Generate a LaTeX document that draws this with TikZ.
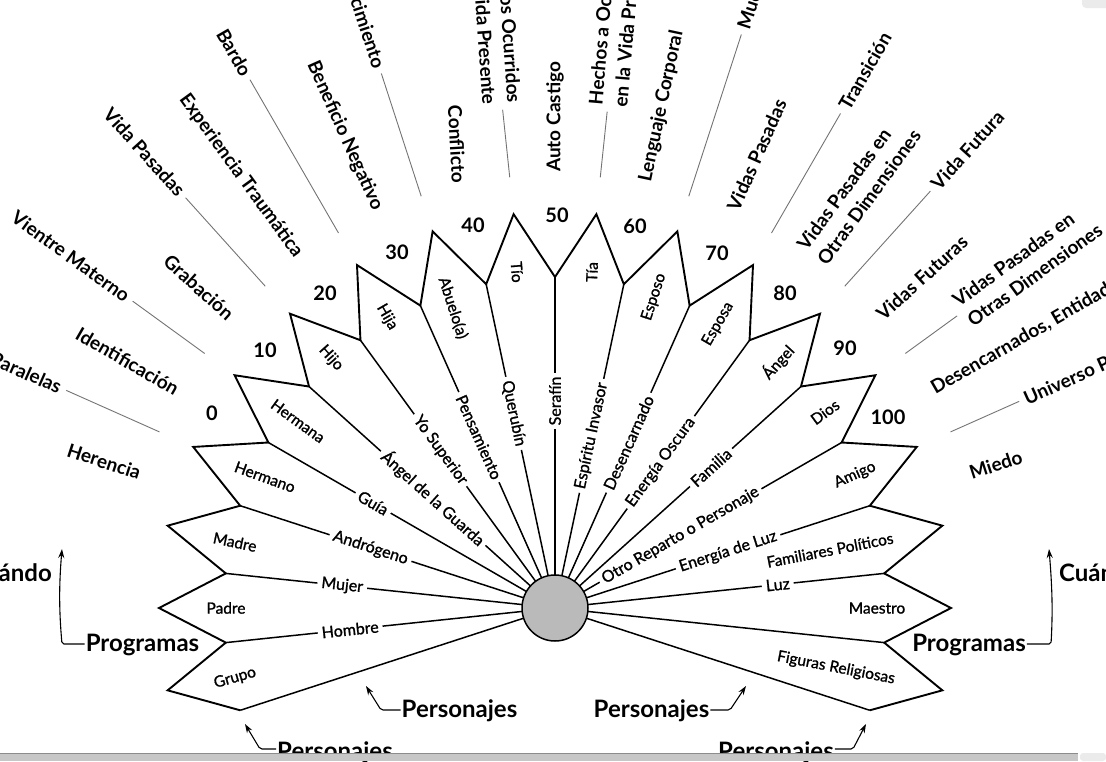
\documentclass[tikz,border=0pt]{standalone}
\usepackage{fontspec}
\setmainfont{Lato}
\newfontfamily\semib{Lato}[FakeBold=1.2]
\usetikzlibrary{calc,arrows.meta}
\begin{document}
\begin{tikzpicture}[x=1pt,y=-1pt,
  outline/.style={line width=1.9pt, line join=miter},
  radial/.style={line width=1.5pt},
  leader/.style={line width=0.9pt, draw=black!55},
  olbl/.style={font=\fontsize{19}{25}\selectfont\bfseries, inner sep=1pt},
  petal/.style={font=\semib\fontsize{15.5}{18}\selectfont, inner sep=1pt},
  linelbl/.style={font=\semib\fontsize{16}{18}\selectfont, fill=white, inner xsep=4pt, inner ysep=0.5pt},
  numlbl/.style={font=\fontsize{20}{24}\selectfont\bfseries, inner sep=1pt},
  biglbl/.style={font=\fontsize{24}{28}\selectfont\bfseries, inner sep=1pt},
  arr/.style={line width=1.1pt, -{Stealth[length=9pt,width=6pt]}, rounded corners=2pt}]
\useasboundingbox (0,0) rectangle (1106,761);
\coordinate (C) at (555,608);
% notches and tips
\foreach \k in {0,...,18} {\coordinate (n\k) at ($(C)+({-(198-12*\k)}:331)$);}
\foreach \k in {0,...,17} {\coordinate (t\k) at ($(C)+({-(192-12*\k)}:396)$);}
\draw[outline] (n0) -- (t0) -- (n1) -- (t1) -- (n2) -- (t2) -- (n3) -- (t3) -- (n4) -- (t4) -- (n5) -- (t5) -- (n6) -- (t6) -- (n7) -- (t7) -- (n8) -- (t8) -- (n9) -- (t9) -- (n10) -- (t10) -- (n11) -- (t11) -- (n12) -- (t12) -- (n13) -- (t13) -- (n14) -- (t14) -- (n15) -- (t15) -- (n16) -- (t16) -- (n17) -- (t17) -- (n18);
\node[circle, minimum size=66pt, inner sep=0pt] (hub) at (C) {};
\foreach \k in {0,...,18} {\draw[radial] (n\k) -- (hub);}
% labels on radial lines
\node[linelbl, rotate=6]   (lHombre) at ($(C)+(-186:206)$) {Hombre};
\node[linelbl, rotate=-6]  (lMujer) at ($(C)+(-174:214)$) {Mujer};
\node[linelbl, rotate=-18] (lAndro) at ($(C)+(-162:194)$) {Andrógeno};
\node[linelbl, rotate=-30] (lGuia) at ($(C)+(-150:210)$) {Guía};
\node[linelbl, rotate=-42] (lAngelG) at ($(C)+(-138:164)$) {Ángel de la Guarda};
\node[linelbl, rotate=-54] (lYo) at ($(C)+(-126:195)$) {Yo Superior};
\node[linelbl, rotate=-66] (lPens) at ($(C)+(-114:187)$) {Pensamiento};
\node[linelbl, rotate=-78] (lQuer) at ($(C)+(-102:199)$) {Querubín};
\node[linelbl, rotate=90]  (lSeraf) at ($(C)+(-90:207)$) {Serafín};
\node[linelbl, rotate=78]  (lEspI) at ($(C)+(-78:176)$) {Espíritu Invasor};
\node[linelbl, rotate=66]  (lDesenc) at ($(C)+(-66:181)$) {Desencarnado};
\node[linelbl, rotate=54]  (lEnOsc) at ($(C)+(-54:180)$) {Energía Oscura};
\node[linelbl, rotate=42]  (lFamilia) at ($(C)+(-42:210)$) {Familia};
\node[linelbl, rotate=30]  (lOtro) at ($(C)+(-30:145)$) {Otro Reparto o Personaje};
\node[linelbl, rotate=18]  (lEnLuz) at ($(C)+(-18:182)$) {Energía de Luz};
\node[linelbl, rotate=6]   (lLuz) at ($(C)+(-6:224)$) {Luz};
\node[circle, draw, line width=1.5pt, fill=black!27, minimum size=66pt, inner sep=0pt] (hubc) at (C) {};
% petal labels
\node[petal, rotate=16]  (pGrupo) at (235,678) {Grupo};
\node[petal]             (pPadre) at (226,608) {Padre};
\node[petal, rotate=-12] (pMadre) at (235,542) {Madre};
\node[petal, rotate=-20] (pHermano) at (265,477) {Hermano};
\node[petal, rotate=-36] (pHermana) at (298,421) {Hermana};
\node[petal, rotate=-48] (pHijo) at (331,358) {Hijo};
\node[petal, rotate=-60] (pHija) at (387,317) {Hija};
\node[petal, rotate=-72] (pAbuelo) at (453,308) {Abuelo(a)};
\node[petal, rotate=-86] (pTio) at (517,272) {Tío};
\node[petal, rotate=88]  (pTia) at (592,272) {Tía};
\node[petal, rotate=72]  (pEsposo) at (654,297) {Esposo};
\node[petal, rotate=60]  (pEsposa) at (718,324) {Esposa};
\node[petal, rotate=48]  (pAngel) at (778,362) {Ángel};
\node[petal, rotate=36]  (pDios) at (825,412) {Dios};
\node[petal, rotate=24]  (pAmigo) at (855,475) {Amigo};
\node[petal, rotate=11]  (pFam) at (830,550) {Familiares Políticos};
\node[petal]             (pMaestro) at (877,608) {Maestro};
\node[petal, rotate=-11] (pFig) at (836,668) {Figuras Religiosas};
% numbers
\node[numlbl] (num0) at (212,413) {0};
\node[numlbl] (num10) at (265,350) {10};
\node[numlbl] (num20) at (325,293) {20};
\node[numlbl] (num30) at (397,252) {30};
\node[numlbl] (num40) at (473,225) {40};
\node[numlbl] (num50) at (557,215) {50};
\node[numlbl] (num60) at (635,226) {60};
\node[numlbl] (num70) at (717,253) {70};
\node[numlbl] (num80) at (785,293) {80};
\node[numlbl] (num90) at (845,348) {90};
\node[numlbl] (num100) at (888,417) {100};
% outer labels, left
\node[olbl, anchor=east, rotate=-18] (oHer) at ($(C)+(-162:435)$) {Herencia};
\coordinate (aPar) at ($(C)+(-156:433)$); \coordinate (bPar) at ($(C)+(-156:535)$);
\draw[leader] (aPar) -- (bPar);
\node[olbl, anchor=east, rotate=-24] (oPar) at ($(C)+(-156:540)$) {Vidas Paralelas};
\node[olbl, anchor=east, rotate=-30] (oIde) at ($(C)+(-150:435)$) {Identificación};
\coordinate (aVie) at ($(C)+(-144:433)$); \coordinate (bVie) at ($(C)+(-144:522)$);
\draw[leader] (aVie) -- (bVie);
\node[olbl, anchor=east, rotate=-36] (oVie) at ($(C)+(-144:527)$) {Vientre Materno};
\node[olbl, anchor=east, rotate=-42] (oGra) at ($(C)+(-138:435)$) {Grabación};
\coordinate (aVPa) at ($(C)+(-132:433)$); \coordinate (bVPa) at ($(C)+(-132:552)$);
\draw[leader] (aVPa) -- (bVPa);
\node[olbl, anchor=east, rotate=-48] (oVPa) at ($(C)+(-132:557)$) {Vida Pasadas};
\node[olbl, anchor=east, rotate=-54] (oExp) at ($(C)+(-126:435)$) {Experiencia Traumática};
\coordinate (aBar) at ($(C)+(-120:433)$); \coordinate (bBar) at ($(C)+(-120:610)$);
\draw[leader] (aBar) -- (bBar);
\node[olbl, anchor=east, rotate=-60] (oBar) at ($(C)+(-120:615)$) {Bardo};
\node[olbl, anchor=east, rotate=-66] (oBen) at ($(C)+(-114:435)$) {Beneficio Negativo};
\coordinate (aNac) at ($(C)+(-108:433)$); \coordinate (bNac) at ($(C)+(-108:562)$);
\draw[leader] (aNac) -- (bNac);
\node[olbl, anchor=east, rotate=-72] (oNac) at ($(C)+(-108:567)$) {Nacimiento};
\node[olbl, anchor=east, rotate=-87] (oCon) at (459,184) {Conflicto};
\coordinate (aHO) at ($(C)+(-96:433)$); \coordinate (bHO) at ($(C)+(-96:501)$);
\draw[leader] (aHO) -- (bHO);
\node[olbl, anchor=east, align=right, rotate=-86] (oHO) at ($(C)+(-96:506)$) {Hechos Ocurridos\\en la Vida Presente};
% top / right
\node[olbl, anchor=west, rotate=90] (oAut) at ($(C)+(-90:435)$) {Auto Castigo};
\coordinate (aHA) at ($(C)+(-84:433)$); \coordinate (bHA) at ($(C)+(-84:499)$);
\draw[leader] (aHA) -- (bHA);
\node[olbl, anchor=west, align=left, rotate=85] (oHA) at ($(C)+(-84:504)$) {Hechos a Ocurrir\\en la Vida Presente};
\node[olbl, anchor=west, rotate=78] (oLen) at ($(C)+(-78:435)$) {Lenguaje Corporal};
\coordinate (aMue) at ($(C)+(-72:433)$); \coordinate (bMue) at ($(C)+(-72:603)$);
\draw[leader] (aMue) -- (bMue);
\node[olbl, anchor=west, rotate=72] (oMue) at ($(C)+(-72:608)$) {Muerte};
\node[olbl, anchor=west, rotate=66] (oVP) at ($(C)+(-66:435)$) {Vidas Pasadas};
\coordinate (aTra) at ($(C)+(-60:433)$); \coordinate (bTra) at ($(C)+(-60:571)$);
\draw[leader] (aTra) -- (bTra);
\node[olbl, anchor=west, rotate=60] (oTra) at ($(C)+(-60:576)$) {Transición};
\node[olbl, anchor=west, align=left, rotate=54] (oVPD1) at ($(C)+(-54:435)$) {Vidas Pasadas en\\Otras Dimensiones};
\coordinate (aVF) at ($(C)+(-48:433)$); \coordinate (bVF) at ($(C)+(-48:561)$);
\draw[leader] (aVF) -- (bVF);
\node[olbl, anchor=west, rotate=48] (oVF) at ($(C)+(-48:566)$) {Vida Futura};
\node[olbl, anchor=west, rotate=42] (oVFs) at ($(C)+(-42:435)$) {Vidas Futuras};
\coordinate (aVPD) at ($(C)+(-36:433)$); \coordinate (bVPD) at ($(C)+(-36:497)$);
\draw[leader] (aVPD) -- (bVPD);
\node[olbl, anchor=west, align=left, rotate=36] (oVPD2) at ($(C)+(-36:502)$) {Vidas Pasadas en\\Otras Dimensiones};
\node[olbl, anchor=west, rotate=30] (oDes) at ($(C)+(-30:435)$) {Desencarnados, Entidades};
\coordinate (aUni) at ($(C)+(-24:433)$); \coordinate (bUni) at ($(C)+(-24:508)$);
\draw[leader] (aUni) -- (bUni);
\node[olbl, anchor=west, rotate=24] (oUni) at ($(C)+(-24:513)$) {Universo Paralelo};
\node[olbl, anchor=west, rotate=18] (oMie) at ($(C)+(-18:435)$) {Miedo};
% bottom annotations
\node[biglbl, anchor=base] (progL) at (142.5,651) {Programas};
\node[biglbl, anchor=base] (progR) at (969,651) {Programas};
\node[biglbl, anchor=base east] (cuaL) at (53,581) {Cuándo};
\node[biglbl, anchor=base west] (cuaR) at (1058,581) {Cuándo};
\node[biglbl, anchor=base] (perML) at (459.5,717) {Personajes};
\node[biglbl, anchor=base] (perMR) at (651.5,717) {Personajes};
\node[biglbl, anchor=base] (perBL) at (335,759) {Personajes};
\node[biglbl, anchor=base] (perBR) at (776,759) {Personajes};
\coordinate (cPL) at (62,644); \coordinate (tPL) at (62,549);
\draw[arr] (progL.west |- cPL) -- (cPL) .. controls (59,610) and (59,585) .. (tPL);
\coordinate (cPR) at (1051,644); \coordinate (tPR) at (1049,549);
\draw[arr] (progR.east |- cPR) -- (cPR) .. controls (1053,610) and (1052,585) .. (tPR);
\coordinate (cML) at (381,710); \coordinate (tML) at (366,686);
\draw[arr] (perML.west |- cML) -- (cML) -- (tML);
\coordinate (cMR) at (730,710); \coordinate (tMR) at (746,686);
\draw[arr] (perMR.east |- cMR) -- (cMR) -- (tMR);
\coordinate (cBL) at (260,749); \coordinate (tBL) at (245,724);
\draw[arr] (perBL.west |- cBL) -- (cBL) -- (tBL);
\coordinate (cBR) at (853,749); \coordinate (tBR) at (866,724);
\draw[arr] (perBR.east |- cBR) -- (cBR) -- (tBR);
% screen bar
\fill[black!22] (0,753) rectangle (1078,761);
\draw[black!45, line width=1pt] (0,753.5) -- (1078,753.5);
\fill[black!8, rounded corners=3pt] (1080,753) rectangle (1106,761);
\fill[black!8, rounded corners=4pt] (1082,-4) rectangle (1110,8);
\end{tikzpicture}
\end{document}
